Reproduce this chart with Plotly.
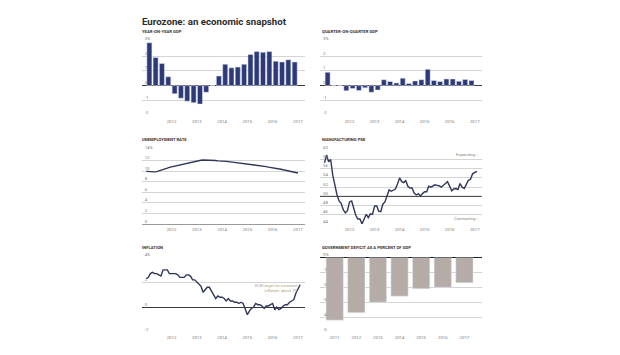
import plotly.graph_objects as go
import pandas as pd

# ---------------- data ----------------
yoy_gdp = [2.9, 1.9, 1.5, 0.6, -0.55, -0.85, -1.05, -1.15, -1.25, -0.45, 0.0, 0.65,
           1.45, 1.2, 1.25, 1.45, 2.1, 2.3, 2.25, 2.3, 1.65, 1.6, 1.75, 1.6]
qoq_gdp = [0.9, 0.0, 0.0, -0.35, -0.2, -0.33, -0.15, -0.45, -0.3, 0.4, 0.28, 0.18,
           0.5, 0.15, 0.32, 0.4, 1.1, 0.35, 0.28, 0.45, 0.45, 0.3, 0.42, 0.35]
unemployment = [10.0, 9.95, 9.9, 9.9, 9.9, 9.95, 10.05, 10.15, 10.3, 10.45, 10.6, 10.75,
                10.85, 10.95, 11.05, 11.15, 11.25, 11.35, 11.45, 11.55, 11.65, 11.75, 11.85, 11.9,
                12.0, 12.05, 12.1, 12.15, 12.15, 12.15, 12.1, 12.1, 12.05, 12.05, 12.0, 12.0,
                12.0, 11.95, 11.9, 11.85, 11.8, 11.75, 11.7, 11.65, 11.6, 11.6, 11.55, 11.5,
                11.45, 11.4, 11.3, 11.25, 11.2, 11.1, 11.05, 11.0, 10.95, 10.9, 10.8, 10.75,
                10.7, 10.6, 10.55, 10.45, 10.4, 10.3, 10.2, 10.1, 10.0, 9.95, 9.85, 9.8,
                9.7]
pmi = [57.3, 59.0, 57.5, 58.0, 54.6, 52.0, 50.4, 49.0, 48.5, 47.1, 46.4, 46.9,
       48.8, 49.0, 47.7, 45.9, 45.1, 45.1, 44.0, 45.1, 46.1, 45.4, 46.2, 46.1,
       47.9, 47.9, 46.8, 46.7, 48.3, 48.8, 50.3, 51.4, 51.1, 51.3, 51.6, 52.7,
       54.0, 53.2, 53.0, 53.4, 52.2, 51.8, 51.8, 50.7, 50.3, 50.6, 50.1, 50.6,
       51.0, 51.0, 52.2, 52.0, 52.2, 52.5, 52.4, 52.3, 52.0, 52.3, 52.8, 53.2,
       52.3, 51.2, 51.6, 51.7, 51.5, 52.8, 52.0, 51.7, 52.6, 53.5, 53.7, 54.9,
       55.2, 55.4]
inflation = [2.3, 2.4, 2.7, 2.8, 2.7, 2.7, 2.6, 2.5, 3.0, 3.0, 3.0, 2.7,
             2.7, 2.7, 2.7, 2.6, 2.4, 2.4, 2.4, 2.6, 2.6, 2.5, 2.2, 2.2,
             2.0, 1.8, 1.7, 1.2, 1.4, 1.6, 1.6, 1.3, 1.1, 0.7, 0.9, 0.8,
             0.8, 0.7, 0.5, 0.7, 0.5, 0.5, 0.4, 0.4, 0.3, 0.4, 0.3, -0.2,
             -0.6, -0.3, -0.1, 0.0, 0.3, 0.2, 0.2, 0.1, -0.1, 0.1, 0.1, 0.2,
             0.3, -0.2, 0.0, -0.2, -0.1, 0.1, 0.2, 0.2, 0.4, 0.5, 0.6, 1.1,
             1.45, 1.8]
deficit_years = ["2011", "2012", "2013", "2014", "2015", "2016", "2017"]
deficit = [-4.2, -3.7, -3.0, -2.6, -2.1, -2.0, -1.7]

year_ticks = ["2012", "2013", "2014", "2015", "2016", "2017"]
pmi_threshold = 50

quarter_dates = pd.date_range("2011-01-01", periods=len(yoy_gdp), freq="QS") + pd.Timedelta(days=45)
month_dates_u = pd.date_range("2011-01-01", periods=len(unemployment), freq="MS")
month_dates_p = pd.date_range("2011-01-01", periods=len(pmi), freq="MS")
month_dates_i = pd.date_range("2011-01-01", periods=len(inflation), freq="MS")

# ---------------- styles ----------------
OFF = 8  # default page margin of the html body
W, H = 620 - OFF, 355 - OFF
NAVY = "#2e3a78"
LINE = "#30365a"
GRID = "#d4d4d4"
DARK = "#3a3a3a"
TICKC = "#7a7a7a"
FONT = "Roboto"

def px_x(p):
    return (p - OFF) / W

def px_y(p):
    return 1 - (p - OFF) / H

xl = [px_x(141.7), px_x(305)]
xr = [px_x(320), px_x(481.7)]
rows = [[px_y(111), px_y(35.7)], [px_y(221.7), px_y(146.7)], [px_y(331.7), px_y(255.7)]]

bar_w = 0.2 * 365.25 * 86400000
date_range = ["2010-10-27", "2017-04-13"]
tickvals_dates = [f"{y}-01-01" for y in year_ticks]

fig = go.Figure()
fig.add_trace(go.Bar(x=quarter_dates, y=yoy_gdp, marker_color=NAVY, width=bar_w,
                     xaxis="x", yaxis="y", showlegend=False))
fig.add_trace(go.Bar(x=quarter_dates, y=qoq_gdp, marker_color=NAVY, width=bar_w,
                     xaxis="x2", yaxis="y2", showlegend=False))
fig.add_trace(go.Scatter(x=month_dates_u, y=unemployment, mode="lines",
                         line=dict(color=LINE, width=1.4), xaxis="x3", yaxis="y3", showlegend=False))
fig.add_trace(go.Scatter(x=month_dates_p, y=pmi, mode="lines",
                         line=dict(color=LINE, width=1.4), xaxis="x4", yaxis="y4", showlegend=False))
fig.add_trace(go.Scatter(x=month_dates_i, y=inflation, mode="lines",
                         line=dict(color=LINE, width=1.4), xaxis="x5", yaxis="y5", showlegend=False))
fig.add_trace(go.Bar(x=deficit_years, y=deficit, marker_color="#b5aca7", width=0.8,
                     xaxis="x6", yaxis="y6", showlegend=False))

tickfont = dict(family=FONT, size=4.3, color=TICKC)

def xdate(domain, anchor):
    return dict(domain=domain, anchor=anchor, type="date", range=date_range,
                tickvals=tickvals_dates, ticktext=year_ticks, showgrid=False,
                zeroline=False, showline=False, ticks="", tickfont=tickfont,
                ticklabelstandoff=2, fixedrange=True)

def yaxis(domain, anchor, rng, vals, texts, zeroline=True, zcolor=DARK):
    return dict(domain=domain, anchor=anchor, range=rng, tickvals=vals, ticktext=texts,
                showgrid=True, gridcolor=GRID, gridwidth=0.8, zeroline=zeroline,
                zerolinecolor=zcolor, zerolinewidth=1, showline=False, ticks="",
                ticklabelposition="inside top", ticklabeloverflow="allow",
                tickfont=tickfont, fixedrange=True)

fig.update_layout(
    width=W, height=H, margin=dict(l=0, r=0, t=0, b=0),
    paper_bgcolor="white", plot_bgcolor="white",
    font=dict(family=FONT, color="#333"),
    bargap=0.2,
    xaxis=xdate(xl, "y"),
    yaxis=yaxis(rows[0], "x", [-2, 3], [-2, -1, 0, 1, 2, 3], ["-2", "-1", "0", "1", "2", "3%"]),
    xaxis2=xdate(xr, "y2"),
    yaxis2=yaxis(rows[0], "x2", [-2, 3], [-2, -1, 0, 1, 2, 3], ["-2", "-1", "0", "1", "2", "3%"]),
    xaxis3=xdate(xl, "y3"),
    yaxis3=yaxis(rows[1], "x3", [0, 14], [0, 2, 4, 6, 8, 10, 12, 14],
                 ["0", "2", "4", "6", "8", "10", "12", "14%"], zcolor="#9a9a9a"),
    xaxis4=xdate(xr, "y4"),
    yaxis4=yaxis(rows[1], "x4", [44, 60], [44, 46, 48, 50, 52, 54, 56, 58, 60],
                 ["44", "46", "48", "50", "52", "54", "56", "58", "60"], zeroline=False),
    xaxis5=xdate(xl, "y5"),
    yaxis5=yaxis(rows[2], "x5", [-2, 4], [-2, 0, 2, 4], ["-2", "0", "2", "4%"]),
    xaxis6=dict(domain=xr, anchor="y6", type="category", range=[-0.68, 6.8],
                showgrid=False, zeroline=False, showline=False, ticks="",
                tickfont=tickfont, ticklabelstandoff=2, fixedrange=True),
    yaxis6=yaxis(rows[2], "x6", [-5, 0], [-5, -4, -3, -2, -1, 0],
                 ["-5", "-4", "-3", "-2", "-1", "0%"], zcolor="#222"),
)

# PMI 50 reference line
fig.add_shape(type="line", xref="x4 domain", yref="y4", x0=0, x1=1,
              y0=pmi_threshold, y1=pmi_threshold, line=dict(color=DARK, width=1))

# Title and panel labels
fig.add_annotation(text="<b>Eurozone: an economic snapshot</b>", xref="paper", yref="paper",
                   x=px_x(139.5), y=px_y(15.5), xanchor="left", yanchor="middle", showarrow=False,
                   font=dict(family=FONT, size=9.7, color="#2a2a2a"))
labels = [("YEAR-ON-YEAR GDP", 140, 26), ("QUARTER-ON-QUARTER GDP", 320, 26),
          ("UNEMPLOYMENT RATE", 140, 136), ("MANUFACTURING PMI", 320, 136),
          ("INFLATION", 140, 245.5), ("GOVERNMENT DEFICIT AS A PERCENT OF GDP", 320, 245.5)]
for t, x, y in labels:
    fig.add_annotation(text=f"<b>{t}</b>", xref="paper", yref="paper", x=px_x(x), y=px_y(y),
                       xanchor="left", yanchor="middle", showarrow=False,
                       font=dict(family=FONT, size=4.2, color="#333"))

# PMI expanding / contracting notes
fig.add_annotation(text="Expanding <b>↑</b>", xref="x4 domain", yref="y4", x=0.995, y=59.1,
                   xanchor="right", yanchor="middle", showarrow=False,
                   font=dict(family=FONT, size=4.2, color="#8a8a8a"))
fig.add_annotation(text="Contracting <b>↓</b>", xref="x4 domain", yref="y4", x=0.995, y=45.2,
                   xanchor="right", yanchor="middle", showarrow=False,
                   font=dict(family=FONT, size=4.2, color="#8a8a8a"))

# ECB target note
fig.add_annotation(text="ECB target for eurozone<br>inflation: about 2%", xref="x5", yref="y5",
                   x="2017-01-10", y=1.55, xanchor="right", yanchor="middle", align="right",
                   showarrow=False, font=dict(family=FONT, size=4, color="#b39d7e"))

fig.write_html("out.html")
